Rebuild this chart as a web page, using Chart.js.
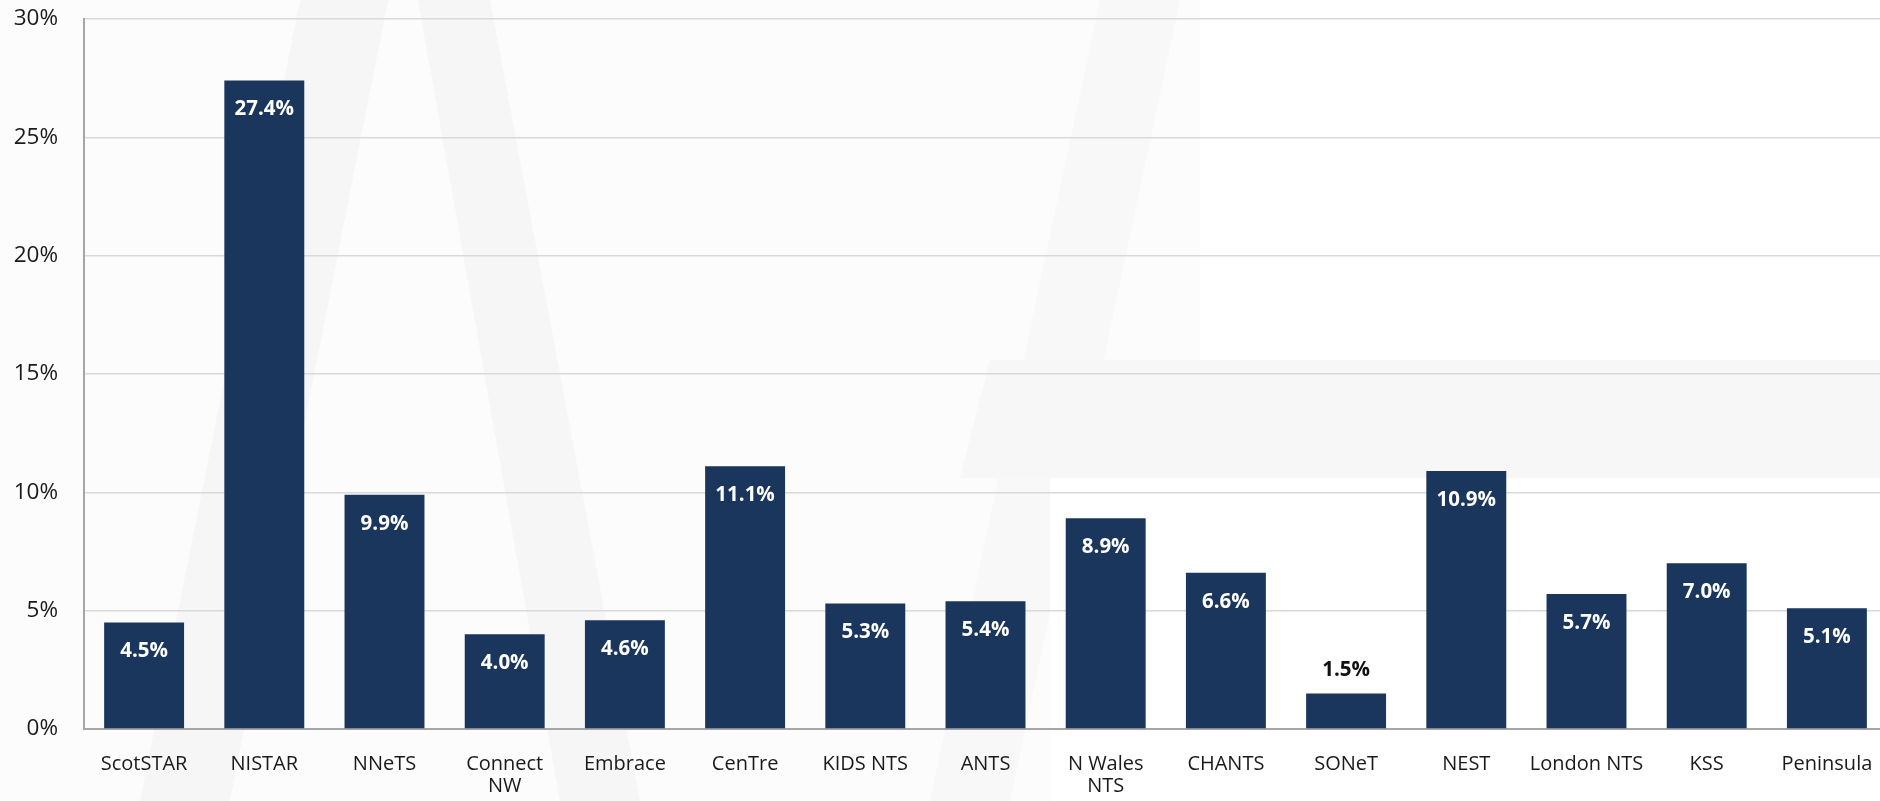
<!DOCTYPE html>
<html>
<head>
<meta charset="utf-8">
<script src="https://cdn.jsdelivr.net/npm/chart.js@4.4.0/dist/chart.umd.min.js"></script>
<style>
  html, body { margin: 0; padding: 0; background: #ffffff; overflow: hidden; }
  #wrap { width: 1888px; height: 801px; }
</style>
</head>
<body>
<div id="wrap"><canvas id="c" width="1888" height="801"></canvas></div>
<script>
const categories = ['ScotSTAR', 'NISTAR', 'NNeTS', ['Connect', 'NW'], 'Embrace', 'CenTre', 'KIDS NTS', 'ANTS', ['N Wales', 'NTS'], 'CHANTS', 'SONeT', 'NEST', 'London NTS', 'KSS', 'Peninsula'];
const values = [4.5, 27.4, 9.9, 4.0, 4.6, 11.1, 5.3, 5.4, 8.9, 6.6, 1.5, 10.9, 5.7, 7.0, 5.1];
const yTicks = [0, 5, 10, 15, 20, 25, 30];

const FONT = '"Open Sans", "Liberation Sans", sans-serif';

const watermark = {
  id: 'watermark',
  beforeDraw(chart) {
    const ctx = chart.ctx;
    ctx.save();
    ctx.fillStyle = '#fcfcfc';
    ctx.fillRect(0, 0, chart.width, chart.height);
    ctx.fillStyle = '#f6f6f6';
    ctx.beginPath();
    ctx.moveTo(300, 0); ctx.lineTo(388, 0); ctx.lineTo(230, 801); ctx.lineTo(140, 801); ctx.closePath(); ctx.fill();
    ctx.beginPath();
    ctx.moveTo(418, 0); ctx.lineTo(490, 0); ctx.lineTo(640, 801); ctx.lineTo(560, 801); ctx.closePath(); ctx.fill();
    ctx.fillStyle = '#f8f8f8';
    ctx.beginPath();
    ctx.moveTo(1100, 0); ctx.lineTo(1180, 0); ctx.lineTo(1010, 801); ctx.lineTo(930, 801); ctx.closePath(); ctx.fill();
    ctx.fillStyle = '#f7f7f7';
    ctx.beginPath();
    ctx.moveTo(990, 360); ctx.lineTo(1888, 360); ctx.lineTo(1888, 478); ctx.lineTo(960, 478); ctx.closePath(); ctx.fill();
    ctx.fillStyle = '#ffffff';
    ctx.fillRect(1200, 0, 688, 360);
    ctx.fillRect(1050, 478, 838, 323);
    ctx.restore();
  }
};

const barLabels = {
  id: 'barLabels',
  afterDatasetsDraw(chart) {
    const ctx = chart.ctx;
    const meta = chart.getDatasetMeta(0);
    ctx.save();
    ctx.font = 'bold 20.5px ' + FONT;
    ctx.textAlign = 'center';
    ctx.textBaseline = 'middle';
    meta.data.forEach((bar, i) => {
      const txt = values[i].toFixed(1) + '%';
      const h = bar.base - bar.y;
      if (h > 60) {
        ctx.fillStyle = '#ffffff';
        ctx.fillText(txt, bar.x, bar.y + 29);
      } else {
        ctx.fillStyle = '#111111';
        ctx.fillText(txt, bar.x, bar.y - 23);
      }
    });
    ctx.restore();
  }
};

new Chart(document.getElementById('c'), {
  type: 'bar',
  data: {
    labels: categories,
    datasets: [{
      data: values,
      backgroundColor: '#1a365d',
      borderWidth: 0,
      categoryPercentage: 1.0,
      barPercentage: 0.665
    }]
  },
  options: {
    responsive: false,
    animation: false,
    devicePixelRatio: 1,
    layout: { padding: { top: 19, right: 1, bottom: 0, left: 0 } },
    plugins: { legend: { display: false }, tooltip: { enabled: false } },
    scales: {
      x: {
        grid: { display: false, drawTicks: true, tickLength: 22, tickColor: 'rgba(0,0,0,0)' },
        border: { display: true, color: '#a6a6a6', width: 2 },
        ticks: {
          color: '#1a1a1a',
          font: { family: FONT, size: 20, lineHeight: 1.1 },
          padding: 2,
          maxRotation: 0,
          autoSkip: false
        },
        afterFit(s) { s.height = 72; }
      },
      y: {
        min: 0,
        max: 30,
        afterBuildTicks(s) { s.ticks = yTicks.map(v => ({ value: v })); },
        grid: { color: '#d9d9d9', lineWidth: 1.5, drawTicks: true, tickLength: 24, tickColor: 'rgba(0,0,0,0)' },
        border: { display: true, color: '#a6a6a6', width: 2 },
        ticks: {
          color: '#1a1a1a',
          font: { family: FONT, size: 22.5 },
          padding: 2,
          callback: v => v + '%'
        },
        afterFit(s) { s.width = 84; }
      }
    }
  },
  plugins: [watermark, barLabels]
});
</script>
</body>
</html>
